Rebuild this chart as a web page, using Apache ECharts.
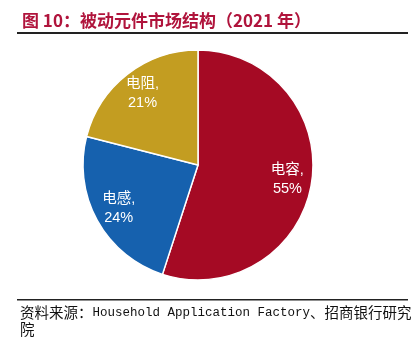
<!DOCTYPE html>
<html><head><meta charset="utf-8">
<script src="https://cdn.jsdelivr.net/npm/echarts@6/dist/echarts.min.js"></script>
<style>html,body{margin:0;padding:0;background:#fff}#c{width:413px;height:338px}</style>
</head><body><div id="c"></div>
<script>
const categories = ['电容', '电感', '电阻'];
const shares = [55, 24, 21];
const colors = ['#A50A24', '#1661AE', '#C39D21'];
const titleText = '图 10：被动元件市场结构（2021 年）';
const sourceParts = ['资料来源：', 'Household Application Factory', '、招商银行研究', '院'];

const data = categories.map((c, i) => ({ name: c, value: shares[i], itemStyle: { color: colors[i] } }));
const chart = echarts.init(document.getElementById('c'), null, { renderer: 'canvas' });
chart.setOption({
  animation: false,
  backgroundColor: '#fff',
  series: [
    {
      type: 'pie', center: [198, 165], radius: [0, 115], startAngle: 90, clockwise: true,
      data: data, label: { show: false }, labelLine: { show: false },
      itemStyle: { borderColor: '#fff', borderWidth: 1.5 }, silent: true
    },
    {
      type: 'pie', center: [198, 165], radius: [60, 115], startAngle: 90, clockwise: true,
      data: categories.map((c, i) => ({ name: c, value: shares[i] })),
      itemStyle: { color: 'rgba(0,0,0,0)', borderWidth: 0 }, silent: true,
      label: {
        show: true, position: 'inside', formatter: '{b},\n{d}%',
        color: '#fff', fontSize: 14.5, lineHeight: 19,
        fontFamily: '"Liberation Sans", "Noto Sans CJK SC", sans-serif'
      },
      labelLine: { show: false }
    }
  ],
  graphic: [
    { type: 'text', left: 22, top: 12, style: { text: titleText, fill: '#B0143C', font: 'bold 17px "Noto Sans CJK SC", sans-serif' } },
    { type: 'rect', shape: { x: 17, y: 32, width: 391, height: 2 }, style: { fill: '#222' } },
    { type: 'rect', shape: { x: 17, y: 299, width: 391, height: 1.5 }, style: { fill: '#222' } },
    { type: 'text', left: 20, top: 305, style: {
      text: '{c|' + sourceParts[0] + '}{l|' + sourceParts[1] + '}{c|' + sourceParts[2] + '}\n{c|' + sourceParts[3] + '}',
      rich: {
        c: { fontSize: 14.5, lineHeight: 17, fontFamily: '"Noto Sans CJK SC", sans-serif', fill: '#111', color: '#111' },
        l: { fontSize: 12.5, lineHeight: 17, fontFamily: '"Liberation Mono", monospace', fill: '#111', color: '#111' }
      }
    } }
  ]
});
</script></body></html>
